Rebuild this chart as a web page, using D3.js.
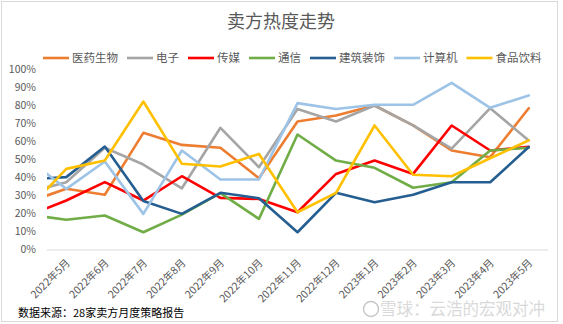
<!DOCTYPE html>
<html><head><meta charset="utf-8">
<script src="https://cdn.jsdelivr.net/npm/d3@7/dist/d3.min.js"></script>
<style>
html,body{margin:0;padding:0;background:#fff;}
svg{display:block;font-family:"Noto Sans CJK SC","Noto Sans",sans-serif;}
</style></head>
<body><svg id="c" width="563" height="324"></svg>
<script>
const title = "卖方热度走势";
const months = ["2022年5月","2022年6月","2022年7月","2022年8月","2022年9月","2022年10月","2022年11月","2022年12月","2023年1月","2023年2月","2023年3月","2023年4月","2023年5月"];
// value of the month before the first category (drawn only up to the plot edge)
const seriesNames = ["医药生物","电子","传媒","通信","建筑装饰","计算机","食品饮料"];
const seriesColors = ["#ED7D31","#A5A5A5","#FF0000","#70AD47","#255E91","#9DC3E6","#FFC000"];
const priorMonth = [26.3, 31.6, 18.8, 19.5, 39.0, 50.3, 22.2];
const yiyao   = [33.7,30.4,64.8,58.1,56.5,39.6,71.1,74.4,80.0,69.0,55.0,51.3,78.5];
const dianzi  = [37.4,56.5,47.2,34.0,67.6,45.7,78.1,71.1,80.0,69.0,56.0,78.5,60.6];
const chuanmei= [27.2,37.4,27.2,40.7,28.7,28.1,20.7,42.0,49.4,42.0,68.9,55.0,57.0];
const tongxin = [16.5,18.9,9.6,19.4,31.3,17.0,63.9,49.4,45.4,34.3,37.4,55.0,56.5];
const jianzhu = [40.2,57.2,26.9,19.8,31.5,28.5,9.6,31.5,26.3,30.4,37.4,37.4,56.9];
const jisuanji= [33.7,48.9,19.8,55.0,38.9,38.9,81.3,78.1,80.4,80.4,92.6,78.7,85.6];
const shipin  = [44.8,49.4,82.2,47.6,46.1,53.1,20.7,31.5,68.9,41.5,40.7,50.7,60.6];
const seriesValues = [yiyao,dianzi,chuanmei,tongxin,jianzhu,jisuanji,shipin];
const yTicks = [0,10,20,30,40,50,60,70,80,90,100];
const source = "数据来源：28家卖方月度策略报告";
const watermark = "雪球：云浩的宏观对冲";

const svg = d3.select("#c");
const W = 563, H = 324;
const L = 47, R = 548, T = 69.5, B = 249.5;

svg.append("rect").attr("x",1.5).attr("y",1.5).attr("width",W-7).attr("height",H-4)
  .attr("fill","#fff").attr("stroke","#d9d9d9").attr("stroke-width",1);

svg.append("text").attr("x",281).attr("y",28).attr("text-anchor","middle")
  .attr("font-size",18).attr("fill","#595959").text(title);

const x = d3.scalePoint().domain(months).range([L,R]).padding(0.5);
const step = x.step();
const y = d3.scaleLinear().domain([0,100]).range([B,T]);

// y axis labels
const ya = svg.append("g").attr("transform",`translate(${L},0)`)
  .call(d3.axisLeft(y).tickValues(yTicks).tickFormat(d=>d+"%").tickSize(0).tickPadding(11));
ya.select(".domain").remove();
ya.selectAll("text").attr("font-size",10.5).attr("fill","#595959").attr("font-family","\"Noto Sans CJK SC\",sans-serif");

// x axis
const xa = svg.append("g").attr("transform",`translate(0,${B})`)
  .call(d3.axisBottom(x).tickSize(0).tickPadding(0));
xa.select(".domain").attr("stroke","#d9d9d9").attr("d",`M${L},0.5H${R}`);
xa.selectAll("text").attr("font-size",10.5).attr("fill","#595959")
  .attr("font-family","\"Noto Sans CJK SC\",sans-serif")
  .attr("text-anchor","end").attr("dy",0)
  .attr("transform","translate(4,14) rotate(-45)");

svg.append("clipPath").attr("id","pc").append("rect")
  .attr("x",L).attr("y",0).attr("width",R-L).attr("height",H);

const line = d3.line().x(d=>d[0]).y(d=>y(d[1]));
const g = svg.append("g").attr("clip-path","url(#pc)");
seriesValues.forEach((vals,i)=>{
  const pts = [[x(months[0])-step, priorMonth[i]]].concat(vals.map((v,j)=>[x(months[j]),v]));
  g.append("path").attr("d",line(pts)).attr("fill","none")
    .attr("stroke",seriesColors[i]).attr("stroke-width",2.6)
    .attr("stroke-linejoin","round").attr("stroke-linecap","round");
});

// legend
const lg = svg.append("g").attr("transform","translate(43,58)");
let cx = 0;
seriesNames.forEach((n,i)=>{
  lg.append("line").attr("x1",cx).attr("x2",cx+26).attr("y1",0).attr("y2",0)
    .attr("stroke",seriesColors[i]).attr("stroke-width",2.6);
  const t = lg.append("text").attr("x",cx+29).attr("y",0).attr("dy","0.36em")
    .attr("font-size",11.5).attr("fill","#595959").text(n);
  cx += 29 + t.node().getComputedTextLength() + 9;
});

// source
svg.append("text").attr("x",18).attr("y",317).attr("font-size",11).attr("fill","#000").text(source);

// watermark
const wm = svg.append("g").attr("opacity",0.55);
wm.append("circle").attr("cx",371).attr("cy",309).attr("r",7.5).attr("fill","none").attr("stroke","#999").attr("stroke-width",1.4);
wm.append("text").attr("x",380).attr("y",315).attr("font-size",16.5).attr("fill","#bbb").text(watermark);
</script></body></html>
